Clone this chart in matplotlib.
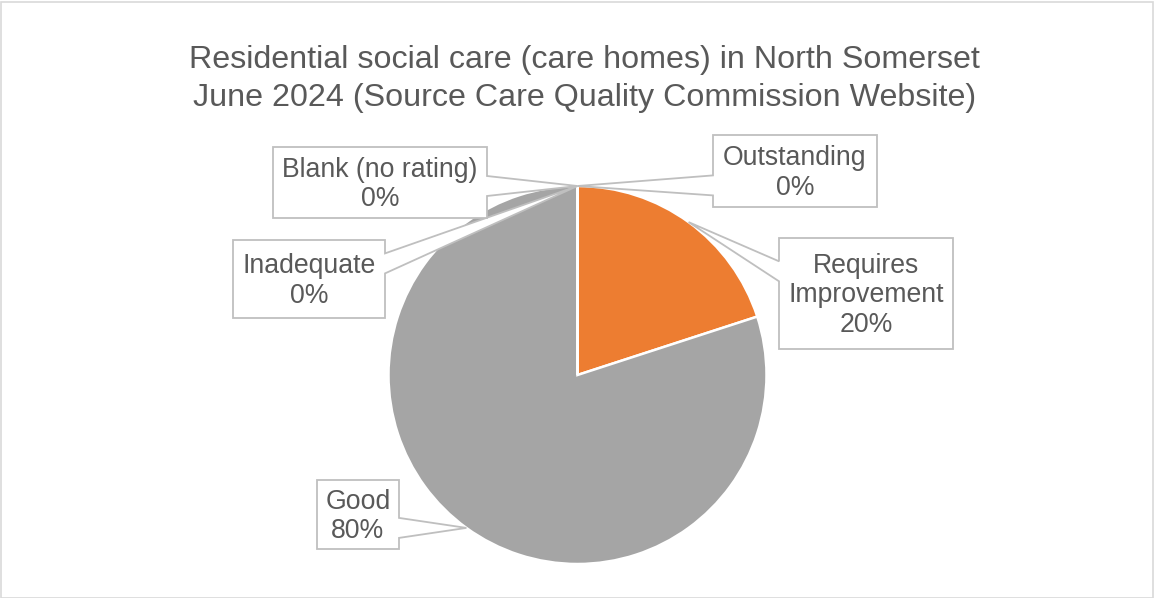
import matplotlib
matplotlib.use("Agg")
import matplotlib.pyplot as plt
from matplotlib.patches import Polygon, Rectangle
import numpy as np

# Ratings of care homes (share of homes)
categories = ["Outstanding", "Requires\nImprovement", "Good", "Inadequate", "Blank (no rating)"]
values = [0, 20, 80, 0, 0]
colors = ["#4472C4", "#ED7D31", "#A5A5A5", "#FFC000", "#5B9BD5"]

title_lines = ["Residential social care (care homes) in North Somerset",
               "June 2024 (Source Care Quality Commission Website)"]

W, H = 1154, 598
TEXT = "#595959"
BOX_EDGE = "#BFBFBF"
plt.rcParams["font.family"] = ["Liberation Sans", "DejaVu Sans"]

fig = plt.figure(figsize=(W / 100, H / 100), dpi=100)
ax = fig.add_axes([0, 0, 1, 1])


def Y(py):
    """Top-down pixel row to data y."""
    return H - py


pie_cx, pie_cy, pie_r = 577.5, 375, 189
wedges, _ = ax.pie(values, colors=colors, startangle=90, counterclock=False,
                   center=(pie_cx, Y(pie_cy)), radius=pie_r,
                   wedgeprops=dict(edgecolor="white", linewidth=1.8))
ax.set_xlim(0, W)
ax.set_ylim(0, H)
ax.set_aspect("equal")
ax.axis("off")

# Callout boxes: left, top, right, bottom (pixel rows from top)
boxes = [(713, 135, 877, 207),
         (779, 238, 953, 349),
         (317, 480, 399, 549),
         (233, 240, 385, 318),
         (273, 147, 487, 218)]

total = sum(values)
label_size = 19.2
pitch = 29.5
for wedge, cat, val, (l, t, r, b) in zip(wedges, categories, values, boxes):
    mid = np.deg2rad((wedge.theta1 + wedge.theta2) / 2)
    tx = pie_cx + pie_r * np.cos(mid)
    ty = pie_cy - pie_r * np.sin(mid)
    h = b - t
    yc = min(max(ty, t + 0.3 * h), b - 0.3 * h)
    hw = 10
    if tx < l:
        pts = [(l, t), (r, t), (r, b), (l, b), (l, yc + hw), (tx, ty), (l, yc - hw)]
    else:
        pts = [(l, t), (r, t), (r, yc - hw), (tx, ty), (r, yc + hw), (r, b), (l, b)]
    poly = Polygon([(x, Y(y)) for x, y in pts], closed=True, facecolor="white",
                   edgecolor=BOX_EDGE, linewidth=1.3, joinstyle="miter", zorder=5)
    ax.add_patch(poly)
    lines = cat.split("\n") + [f"{round(100 * val / total)}%"]
    n = len(lines)
    cy = (t + b) / 2
    for i, line in enumerate(lines):
        base = cy - (n - 1) / 2 * pitch + i * pitch + 9
        ax.text((l + r) / 2, Y(base), line, ha="center", va="baseline",
                fontsize=label_size, color=TEXT, zorder=6)

for line, base in zip(title_lines, [68, 106]):
    ax.text(584.5, Y(base), line, ha="center", va="baseline",
            fontsize=23.2, color=TEXT)

# Chart area border
fig.add_artist(Rectangle((0.5 / W, 0.5 / H), 1 - 2 / W, 1 - 2 / H,
                         transform=fig.transFigure, fill=False,
                         edgecolor="#D9D9D9", linewidth=1.2))

fig.savefig("out.png", dpi=100, facecolor="white")
